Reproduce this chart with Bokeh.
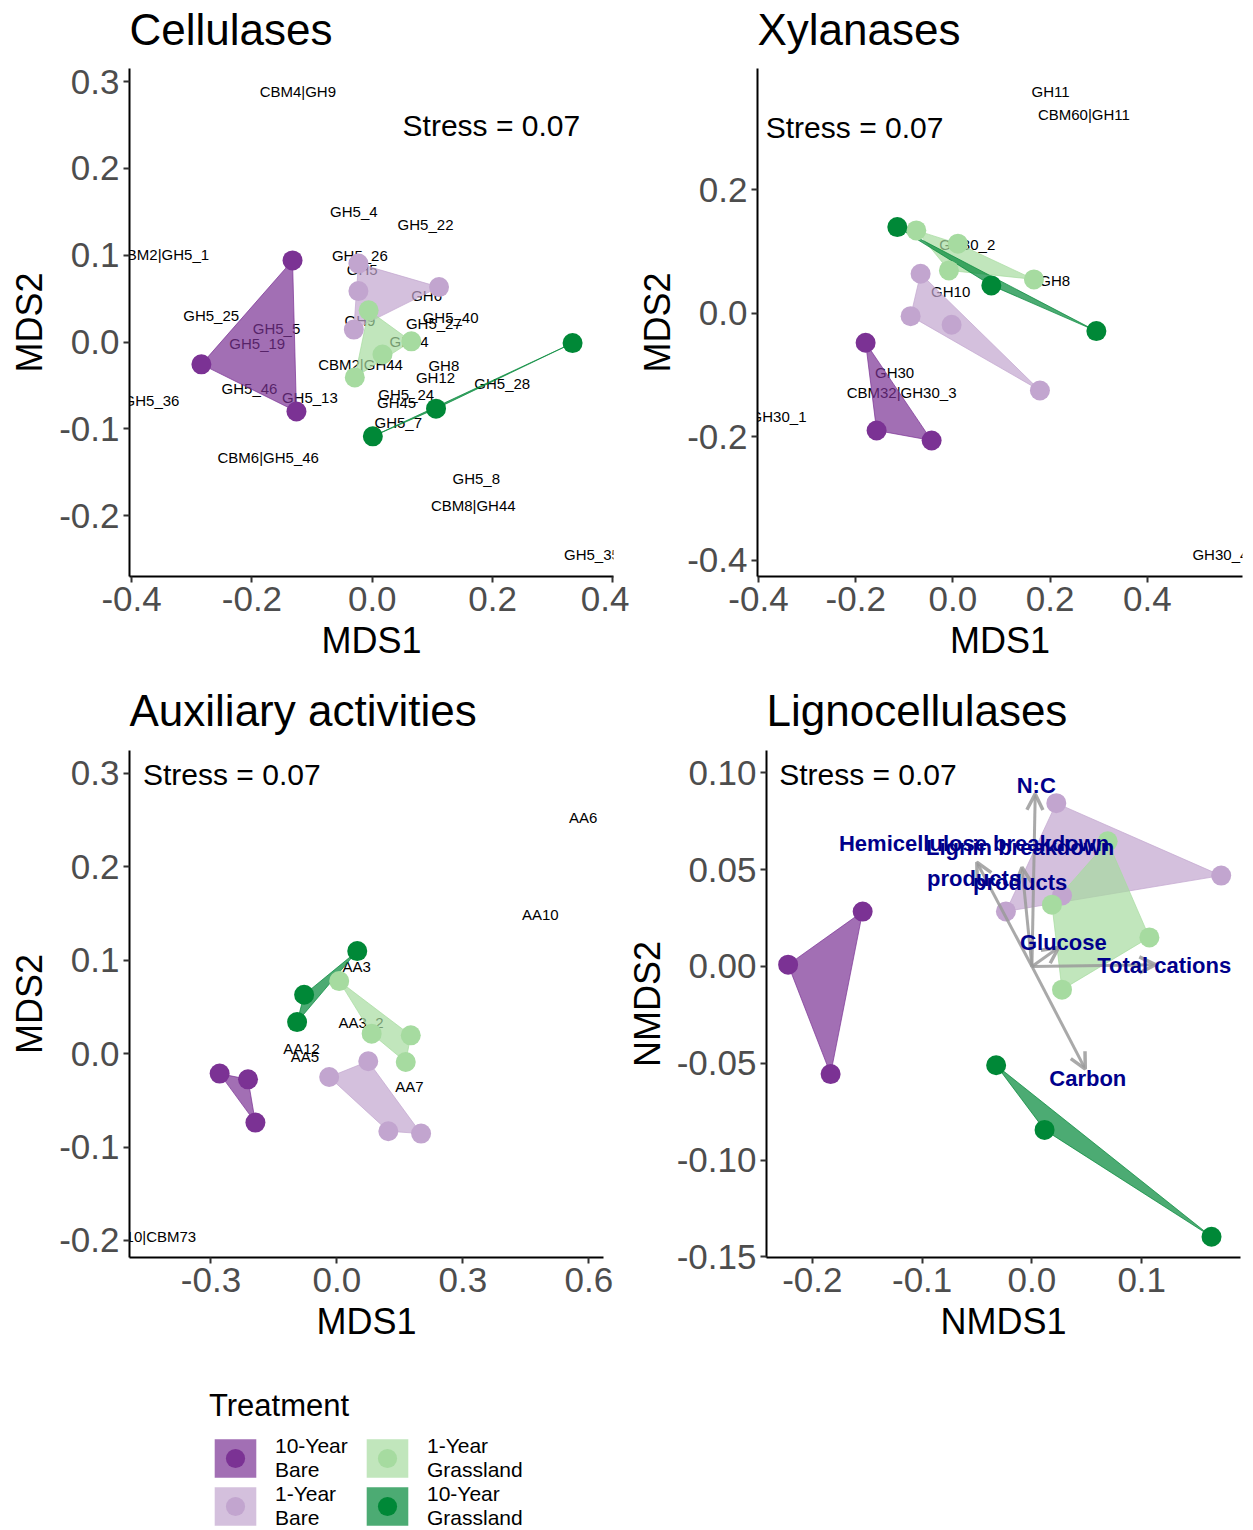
import numpy as np
from bokeh.plotting import figure
from bokeh.models import (Range1d, FixedTicker, NumeralTickFormatter, ColumnDataSource,
                          Arrow, OpenHead, Legend, LegendItem)
from bokeh.layouts import column, row
from bokeh.embed import file_html
from bokeh.resources import INLINE
from bokeh.core.properties import value

FONT = "Liberation Sans"
PAGE_W = 1253

# ---------------------------------------------------------------- treatments
treatments = ["10-Year Bare", "1-Year Bare", "1-Year Grassland", "10-Year Grassland"]
legend_labels = ["10-Year\nBare", "1-Year\nBare", "1-Year\nGrassland", "10-Year\nGrassland"]
treatment_colors = ["#7B3294", "#C2A5CF", "#A6DBA0", "#008837"]

# ---------------------------------------------------------------- Cellulases
cel_site_trt = ["10-Year Bare"] * 3 + ["1-Year Bare"] * 4 + ["1-Year Grassland"] * 4 + ["10-Year Grassland"] * 3
cel_site_mds1 = [-0.1325, -0.284, -0.126, -0.023, -0.023, 0.111, -0.0306,
                 -0.006, 0.065, 0.017, -0.029, 0.333, 0.106, 0.001]
cel_site_mds2 = [0.094, -0.0257, -0.080, 0.0903, 0.0587, 0.0633, 0.0143,
                 0.0365, 0.0008, -0.0143, -0.0407, -0.0012, -0.0767, -0.1086]
cel_genes = ["CBM4|GH9", "GH5_4", "GH5_22", "CBM2|GH5_1", "GH5_26", "GH5", "GH6", "GH9",
             "GH5_40", "GH5_27", "GH74", "GH5_25", "GH5_5", "GH5_19", "CBM2|GH44", "GH8",
             "GH12", "GH5_28", "GH5_36", "GH5_46", "GH5_13", "GH5_24", "GH45", "GH5_7",
             "CBM6|GH5_46", "GH5_8", "CBM8|GH44", "GH5_35"]
cel_gene_mds1 = [-0.1237, -0.0306, 0.0886, -0.3486, -0.0206, -0.0166, 0.0903, -0.0203,
                 0.1302, 0.1024, 0.0612, -0.2677, -0.1591, -0.1912, -0.0195, 0.119,
                 0.1052, 0.2161, -0.3669, -0.204, -0.1037, 0.0565, 0.0404, 0.0432,
                 -0.1729, 0.1729, 0.1679, 0.3651]
cel_gene_mds2 = [0.288, 0.1498, 0.1356, 0.1007, 0.0999, 0.0834, 0.0538, 0.025,
                 0.0285, 0.0212, 0.0002, 0.0308, 0.0154, -0.0012, -0.0257, -0.0268,
                 -0.0403, -0.0472, -0.0672, -0.0537, -0.0634, -0.0606, -0.0691, -0.0922,
                 -0.1325, -0.1574, -0.1881, -0.2446]
cel_stress = 0.07

# ---------------------------------------------------------------- Xylanases
xyl_site_trt = ["10-Year Bare"] * 3 + ["1-Year Bare"] * 4 + ["1-Year Grassland"] * 4 + ["10-Year Grassland"] * 3
xyl_site_mds1 = [-0.1796, -0.157, -0.0438, -0.0665, -0.087, -0.0027, 0.179,
                 -0.0753, 0.0103, -0.0082, 0.1667, -0.1144, 0.079, 0.2951]
xyl_site_mds2 = [-0.0479, -0.19, -0.2062, 0.0638, -0.0049, -0.0188, -0.1252,
                 0.1339, 0.1124, 0.0691, 0.0546, 0.1393, 0.0449, -0.0291]
xyl_genes = ["GH11", "CBM60|GH11", "GH30_2", "GH8", "GH10", "GH30", "CBM32|GH30_3", "GH30_1", "GH30_4"]
xyl_gene_mds1 = [0.201, 0.2695, 0.0296, 0.2093, -0.0047, -0.12, -0.1056, -0.3587, 0.5502]
xyl_gene_mds2 = [0.358, 0.3213, 0.1108, 0.053, 0.0347, -0.0955, -0.128, -0.1673, -0.3907]
xyl_stress = 0.07

# ---------------------------------------------------------------- Auxiliary activities
aa_site_trt = ["10-Year Bare"] * 3 + ["1-Year Bare"] * 4 + ["1-Year Grassland"] * 4 + ["10-Year Grassland"] * 3
aa_site_mds1 = [-0.2793, -0.2117, -0.1941, 0.0747, -0.0184, 0.1225, 0.2005,
                0.0055, 0.0828, 0.1759, 0.164, 0.0485, -0.0781, -0.0948]
aa_site_mds2 = [-0.0214, -0.0275, -0.0738, -0.0082, -0.025, -0.0831, -0.0856,
                0.0777, 0.0214, 0.0196, -0.009, 0.1098, 0.0631, 0.0338]
aa_genes = ["AA6", "AA10", "AA3", "AA3_2", "AA12", "AA5", "AA7", "AA10|CBM73"]
aa_gene_mds1 = [0.5865, 0.4846, 0.047, 0.0573, -0.0843, -0.0764, 0.1726, -0.443]
aa_gene_mds2 = [0.2525, 0.1491, 0.0934, 0.0338, 0.006, -0.0036, -0.035, -0.1955]
aa_stress = 0.07

# ---------------------------------------------------------------- Lignocellulases
lig_site_trt = ["10-Year Bare"] * 3 + ["1-Year Bare"] * 4 + ["1-Year Grassland"] * 4 + ["10-Year Grassland"] * 3
lig_site_nmds1 = [-0.2221, -0.1542, -0.1834, 0.0222, 0.1724, 0.0274, -0.0237,
                  0.069, 0.107, 0.0182, 0.0274, -0.0326, 0.0115, 0.1636]
lig_site_nmds2 = [0.0009, 0.0283, -0.0556, 0.0843, 0.0469, 0.0366, 0.0284,
                  0.0646, 0.015, 0.0319, -0.012, -0.051, -0.0844, -0.1396]
env_vars = ["N:C", "Hemicellulose breakdown\nproducts", "Lignin breakdown\nproducts",
            "Glucose", "Total cations", "Carbon"]
env_nmds1 = [0.003, -0.0502, -0.0091, 0.0243, 0.1125, 0.0486]
env_nmds2 = [0.0891, 0.0538, 0.0512, 0.0098, 0.0009, -0.053]
env_label_nmds1 = [0.0039, -0.0527, -0.0107, 0.0286, 0.1205, 0.0509]
env_label_nmds2 = [0.0934, 0.0546, 0.0522, 0.0124, 0.0004, -0.0577]
lig_stress = 0.07

# panel titles, one list per row of the grid
row1_titles = ["Cellulases", "Xylanases"]
row2_titles = ["Auxiliary activities", "Lignocellulases"]


def convex_hull(xs, ys):
    pts = sorted(set(zip(xs, ys)))
    if len(pts) < 3:
        return [p[0] for p in pts], [p[1] for p in pts]

    def cross(o, a, b):
        return (a[0] - o[0]) * (b[1] - o[1]) - (a[1] - o[1]) * (b[0] - o[0])

    lower, upper = [], []
    for p in pts:
        while len(lower) >= 2 and cross(lower[-2], lower[-1], p) <= 0:
            lower.pop()
        lower.append(p)
    for p in reversed(pts):
        while len(upper) >= 2 and cross(upper[-2], upper[-1], p) <= 0:
            upper.pop()
        upper.append(p)
    hull = lower[:-1] + upper[:-1]
    return [p[0] for p in hull], [p[1] for p in hull]


def make_panel(xr, yr, xticks, yticks, fmt, xlabel, ylabel,
               frame_w, frame_h, left, right, top, bottom):
    p = figure(frame_width=frame_w, frame_height=frame_h,
               x_range=Range1d(*xr), y_range=Range1d(*yr),
               min_border_left=left, min_border_right=right,
               min_border_top=top, min_border_bottom=bottom,
               output_backend="svg", toolbar_location=None)
    p.grid.visible = False
    p.outline_line_color = None
    p.background_fill_color = "white"
    p.border_fill_color = "white"
    p.xaxis.ticker = FixedTicker(ticks=xticks)
    p.yaxis.ticker = FixedTicker(ticks=yticks)
    p.xaxis.axis_label = xlabel
    p.yaxis.axis_label = ylabel
    for ax in (p.xaxis[0], p.yaxis[0]):
        ax.formatter = NumeralTickFormatter(format=fmt)
        ax.axis_line_width = 2
        ax.axis_line_color = "black"
        ax.major_tick_line_width = 2
        ax.major_tick_line_color = "#333333"
        ax.major_tick_out = 6
        ax.major_tick_in = 0
        ax.minor_tick_line_color = None
        ax.major_label_text_font = FONT
        ax.major_label_text_font_size = "35px"
        ax.major_label_text_color = "#4D4D4D"
        ax.major_label_standoff = 4
        ax.axis_label_text_font = FONT
        ax.axis_label_text_font_size = "36px"
        ax.axis_label_text_font_style = "normal"
        ax.axis_label_text_color = "black"
        ax.axis_label_standoff = 6
    return p


def title_strip(titles, lefts, height, mid_from_bottom):
    s = figure(frame_width=PAGE_W, frame_height=height, min_border=0,
               x_range=Range1d(0, PAGE_W), y_range=Range1d(0, height),
               x_axis_location=None, y_axis_location=None,
               output_backend="svg", toolbar_location=None)
    s.grid.visible = False
    s.outline_line_color = None
    s.text(x=lefts, y=[mid_from_bottom] * len(titles), text=titles,
           text_font=value(FONT), text_font_size="44px", text_color="black",
           text_align="left", text_baseline="middle")
    return s


def draw_groups(p, trt, xs, ys):
    trt = np.array(trt)
    xs = np.array(xs)
    ys = np.array(ys)
    for name, col in zip(treatments, treatment_colors):
        m = trt == name
        hx, hy = convex_hull(xs[m].tolist(), ys[m].tolist())
        p.patch(hx, hy, fill_color=col, fill_alpha=0.7, line_color=col, line_alpha=0.7, line_width=1)
    for name, col in zip(treatments, treatment_colors):
        m = trt == name
        p.scatter(xs[m], ys[m], size=20, fill_color=col, line_color=col, line_width=0)


def gene_labels(p, names, xs, ys):
    p.text(x=xs, y=ys, text=names, text_font=value(FONT), text_font_size="15px",
           text_color="black", text_align="center", text_baseline="middle")


def stress_label(p, x, y, s):
    p.text(x=[x], y=[y], text=[f"Stress = {s:.2f}"], text_font=value(FONT),
           text_font_size="30px", text_color="black", text_align="center", text_baseline="middle")


# ---------------------------------------------------------------- panel geometry (px)
P1_LEFT, P1_FRAME, P1_RIGHT = 129, 484, 16
P2_LEFT, P2_FRAME, P2_RIGHT = 128, 485, 11
P3_LEFT, P3_FRAME, P3_RIGHT = 129, 474, 18
P4_LEFT, P4_FRAME, P4_RIGHT = 145, 474, 13
STRIP_H = 58

# ---------------------------------------------------------------- panels
p1 = make_panel((-0.4035, 0.401), (-0.27, 0.315),
                [-0.4, -0.2, 0.0, 0.2, 0.4], [-0.2, -0.1, 0.0, 0.1, 0.2, 0.3], "0.0",
                "MDS1", "MDS2", P1_FRAME, 508, P1_LEFT, P1_RIGHT, 10, 104)
gene_labels(p1, cel_genes, cel_gene_mds1, cel_gene_mds2)
draw_groups(p1, cel_site_trt, cel_site_mds1, cel_site_mds2)
stress_label(p1, 0.198, 0.2491, cel_stress)

p2 = make_panel((-0.402, 0.5957), (-0.4264, 0.396),
                [-0.4, -0.2, 0.0, 0.2, 0.4], [-0.4, -0.2, 0.0, 0.2], "0.0",
                "MDS1", "MDS2", P2_FRAME, 508, P2_LEFT, P2_RIGHT, 10, 104)
gene_labels(p2, xyl_genes, xyl_gene_mds1, xyl_gene_mds2)
draw_groups(p2, xyl_site_trt, xyl_site_mds1, xyl_site_mds2)
stress_label(p2, -0.2023, 0.3002, xyl_stress)

p3 = make_panel((-0.494, 0.635), (-0.2183, 0.3246),
                [-0.3, 0.0, 0.3, 0.6], [-0.2, -0.1, 0.0, 0.1, 0.2, 0.3], "0.0",
                "MDS1", "MDS2", P3_FRAME, 507, P3_LEFT, P3_RIGHT, 12, 103)
gene_labels(p3, aa_genes, aa_gene_mds1, aa_gene_mds2)
draw_groups(p3, aa_site_trt, aa_site_mds1, aa_site_mds2)
stress_label(p3, -0.2503, 0.2989, aa_stress)

p4 = make_panel((-0.2418, 0.19), (-0.1503, 0.1115),
                [-0.2, -0.1, 0.0, 0.1], [-0.15, -0.10, -0.05, 0.0, 0.05, 0.10], "0.00",
                "NMDS1", "NMDS2", P4_FRAME, 507, P4_LEFT, P4_RIGHT, 12, 103)
p4.xaxis[0].formatter = NumeralTickFormatter(format="0.0")
draw_groups(p4, lig_site_trt, lig_site_nmds1, lig_site_nmds2)
env_src = ColumnDataSource(dict(x0=[0.0] * len(env_vars), y0=[0.0] * len(env_vars),
                                x1=env_nmds1, y1=env_nmds2))
p4.add_layout(Arrow(end=OpenHead(size=16, line_color="#9A9A9A", line_width=3.5, line_alpha=0.85),
                    x_start="x0", y_start="y0", x_end="x1", y_end="y1", source=env_src,
                    line_color="#9A9A9A", line_width=3, line_alpha=0.85))
env_txt = p4.text(x=env_label_nmds1, y=env_label_nmds2, text=env_vars, text_font=value(FONT),
                  text_font_size="22px", text_font_style="bold", text_color="#00008B",
                  text_align="center", text_baseline="middle", text_line_height=1.4)
env_txt.level = "overlay"
stress_label(p4, -0.1494, 0.0991, lig_stress)

# ---------------------------------------------------------------- titles
strip1 = title_strip(row1_titles, [P1_LEFT, P1_LEFT + P1_FRAME + P1_RIGHT + P2_LEFT], STRIP_H, 29)
strip2 = title_strip(row2_titles, [P3_LEFT, P3_LEFT + P3_FRAME + P3_RIGHT + P4_LEFT], STRIP_H, 28)

# ---------------------------------------------------------------- legend
lg = figure(frame_width=PAGE_W, frame_height=170, min_border=0,
            x_range=Range1d(0, 1), y_range=Range1d(0, 1),
            x_axis_location=None, y_axis_location=None,
            output_backend="svg", toolbar_location=None)
lg.grid.visible = False
lg.outline_line_color = None
items = []
for lab, col in zip(legend_labels, treatment_colors):
    # keys only: geometry sits outside the visible range
    r1 = lg.patch(x=[-5, -4, -4], y=[-5, -5, -4], fill_color=col, fill_alpha=0.7, line_alpha=0)
    r2 = lg.scatter(x=[-5], y=[-5], size=20, fill_color=col, line_color=col, line_width=0)
    items.append(LegendItem(label=lab, renderers=[r1, r2]))
leg = Legend(items=items, title="Treatment", location=(209, 0), ncols=2,
             glyph_width=52, glyph_height=48, spacing=0, padding=0, margin=0,
             label_standoff=14, label_width=86,
             label_text_font=FONT, label_text_font_size="21px", label_text_line_height=1.0,
             label_text_color="black",
             title_text_font=FONT, title_text_font_size="31px", title_text_font_style="normal",
             title_text_color="black",
             title_standoff=10, border_line_color=None, background_fill_alpha=0)
lg.add_layout(leg)

layout = column(strip1, row(p1, p2), strip2, row(p3, p4), lg)
open("out.html", "w").write(file_html(layout, INLINE))
